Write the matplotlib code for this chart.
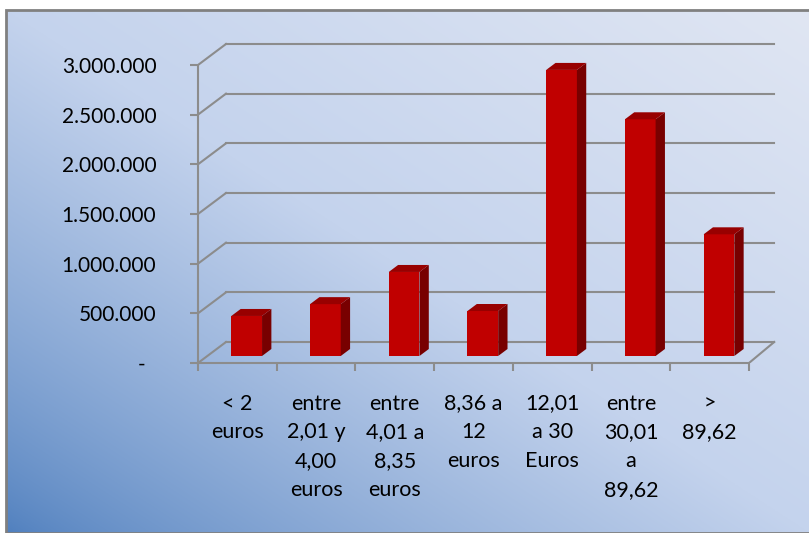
import matplotlib
matplotlib.use("Agg")
import matplotlib.pyplot as plt
from matplotlib.patches import Polygon, Rectangle
import numpy as np

plt.rcParams.update({
    "font.family": ["Lato", "DejaVu Sans"],
    "text.color": "#262626",
})

categories = ["< 2\neuros", "entre\n2,01 y\n4,00\neuros", "entre\n4,01 a\n8,35\neuros",
              "8,36 a\n12\neuros", "12,01\na 30\nEuros", "entre\n30,01\na\n89,62", ">\n89,62"]
values = [403000, 522000, 846000, 453000, 2880000, 2383000, 1225000]
yticks = [0, 500000, 1000000, 1500000, 2000000, 2500000, 3000000]

_FRONT = "#c00000"
_SIDE  = "#780000"
_TOP   = "#980000"
_GRID  = "#8c8c8c"

W, H = 809, 533
fig = plt.figure(figsize=(W / 100, H / 100), dpi=100)

# background gradient (bottom-left dark -> top-right light)
bg = fig.add_axes([6 / W, 0, (W - 6) / W, (H - 10) / H])
gx, gy = np.meshgrid(np.linspace(0, 1, 300), np.linspace(1, 0, 200))
s = (gx + gy) / 2
dark = np.array([0x4f, 0x7f, 0xbe]) / 255
mid = np.array([0xc4, 0xd3, 0xed]) / 255
light = np.array([0xe0, 0xe6, 0xf3]) / 255
t1 = np.clip(s / 0.5, 0, 1)[..., None] ** 0.75
t2 = np.clip((s - 0.5) / 0.5, 0, 1)[..., None]
img = np.where(s[..., None] < 0.5, dark + (mid - dark) * t1, mid + (light - mid) * t2)
bg.imshow(img, aspect="auto", extent=[0, 1, 0, 1], interpolation="bilinear")
bg.set_xlim(0, 1); bg.set_ylim(0, 1)
bg.axis("off")
fig.add_artist(Rectangle((6 / W, 0), (W - 5) / W, (H - 10) / H, transform=fig.transFigure,
                         fill=False, edgecolor="#808080", lw=2))

# main axes: front plane
cat_px = (749 - 198) / 7
val_px = (363 - 65) / 3e6
ax = fig.add_axes([198 / W, (H - 363) / H, 582 / W, 333 / H])
ax.set_facecolor("none")
ax.set_xlim(0, 582 / cat_px)
ax.set_ylim(0, 333 / val_px)

DX = 28 / cat_px
DY = 21 / val_px
BW = 0.39
n = len(categories)

for v in yticks:
    ax.plot([0, DX], [v, v + DY], color=_GRID, lw=1.5, zorder=1)
    ax.plot([DX, n + DX * 0.9], [v + DY, v + DY], color=_GRID, lw=1.5, zorder=1)
ax.plot([n, n + DX * 0.9], [0, DY], color=_GRID, lw=1.5, zorder=1)

for i, v in enumerate(values):
    x0 = i + (1 - BW) / 2 + DX / 3
    y0 = DY / 3
    ax.bar(x0, v, BW, bottom=y0, align="edge", color=_FRONT, zorder=3)
    ax.add_patch(Polygon([(x0 + BW, y0), (x0 + BW + DX / 3, y0 + DY / 3),
                          (x0 + BW + DX / 3, y0 + DY / 3 + v), (x0 + BW, y0 + v)],
                         closed=True, facecolor=_SIDE, edgecolor="none", zorder=3))
    ax.add_patch(Polygon([(x0, y0 + v), (x0 + BW, y0 + v),
                          (x0 + BW + DX / 3, y0 + v + DY / 3), (x0 + DX / 3, y0 + v + DY / 3)],
                         closed=True, facecolor=_TOP, edgecolor="none", zorder=3))

for side in ["top", "right"]:
    ax.spines[side].set_visible(False)
ax.spines["left"].set_bounds(0, yticks[-1])
ax.spines["bottom"].set_bounds(0, n)
for side in ["left", "bottom"]:
    ax.spines[side].set_color(_GRID)
    ax.spines[side].set_linewidth(1.5)

ax.set_yticks(yticks)
ax.set_yticklabels(["-  "] + [f"{v:,.0f}".replace(",", ".") for v in yticks[1:]], fontsize=15)
ax.tick_params(axis="y", direction="out", length=6, width=1.5, color=_GRID, pad=24)

ax.set_xticks(np.arange(n + 1))
ax.set_xticklabels([])
ax.set_xticks(np.arange(n) + 0.5, minor=True)
ax.set_xticklabels(categories, minor=True, fontsize=15.5, linespacing=1.55, va="top")
ax.tick_params(axis="x", which="major", direction="out", length=6, width=1.5, color=_GRID)
ax.tick_params(axis="x", which="minor", length=0, pad=22)

fig.savefig("out.png", dpi=100)
